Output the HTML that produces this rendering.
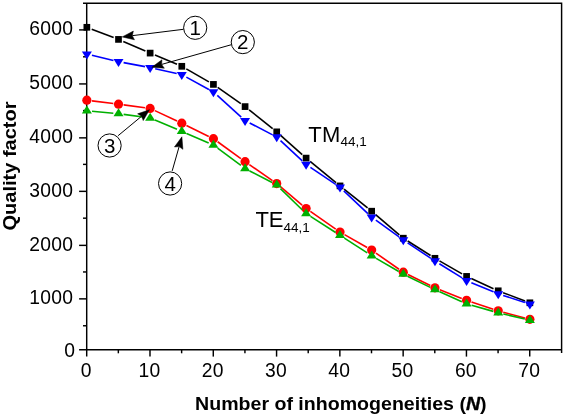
<!DOCTYPE html>
<html><head><meta charset="utf-8"><title>Quality factor</title>
<style>
html,body{margin:0;padding:0;background:#fff;}
body{width:564px;height:416px;overflow:hidden;}
svg{display:block;will-change:transform;}
svg text{font-family:"Liberation Sans",sans-serif;fill:#000;}
</style></head><body>
<svg width="564" height="416" viewBox="0 0 564 416">
<rect width="564" height="416" fill="#fff"/>
<g id="axes">
<path d="M83.0,3.2 H561.6 V353.1" fill="none" stroke="#000" stroke-width="1.45" stroke-linejoin="miter"/>
<line x1="86.7" y1="3.2" x2="86.7" y2="356.6" stroke="#000" stroke-width="1.45"/>
<line x1="79.10000000000001" y1="349.8" x2="561.6" y2="349.8" stroke="#000" stroke-width="1.45"/>
<line x1="79.10000000000001" y1="29.9" x2="86.7" y2="29.9" stroke="#000" stroke-width="1.45"/>
<line x1="79.10000000000001" y1="83.93" x2="86.7" y2="83.93" stroke="#000" stroke-width="1.45"/>
<line x1="79.10000000000001" y1="137.86" x2="86.7" y2="137.86" stroke="#000" stroke-width="1.45"/>
<line x1="79.10000000000001" y1="191.36" x2="86.7" y2="191.36" stroke="#000" stroke-width="1.45"/>
<line x1="79.10000000000001" y1="245.37" x2="86.7" y2="245.37" stroke="#000" stroke-width="1.45"/>
<line x1="79.10000000000001" y1="298.86" x2="86.7" y2="298.86" stroke="#000" stroke-width="1.45"/>
<line x1="83.0" y1="325.76" x2="86.7" y2="325.76" stroke="#000" stroke-width="1.45"/>
<line x1="83.0" y1="271.96" x2="86.7" y2="271.96" stroke="#000" stroke-width="1.45"/>
<line x1="83.0" y1="218.17" x2="86.7" y2="218.17" stroke="#000" stroke-width="1.45"/>
<line x1="83.0" y1="164.38" x2="86.7" y2="164.38" stroke="#000" stroke-width="1.45"/>
<line x1="83.0" y1="110.59" x2="86.7" y2="110.59" stroke="#000" stroke-width="1.45"/>
<line x1="83.0" y1="56.80" x2="86.7" y2="56.80" stroke="#000" stroke-width="1.45"/>
<line x1="149.99" y1="349.8" x2="149.99" y2="356.6" stroke="#000" stroke-width="1.45"/>
<line x1="213.28" y1="349.8" x2="213.28" y2="356.6" stroke="#000" stroke-width="1.45"/>
<line x1="276.57" y1="349.8" x2="276.57" y2="356.6" stroke="#000" stroke-width="1.45"/>
<line x1="339.86" y1="349.8" x2="339.86" y2="356.6" stroke="#000" stroke-width="1.45"/>
<line x1="403.15" y1="349.8" x2="403.15" y2="356.6" stroke="#000" stroke-width="1.45"/>
<line x1="466.44" y1="349.8" x2="466.44" y2="356.6" stroke="#000" stroke-width="1.45"/>
<line x1="529.73" y1="349.8" x2="529.73" y2="356.6" stroke="#000" stroke-width="1.45"/>
<line x1="118.34" y1="349.8" x2="118.34" y2="353.3" stroke="#000" stroke-width="1.45"/>
<line x1="181.63" y1="349.8" x2="181.63" y2="353.3" stroke="#000" stroke-width="1.45"/>
<line x1="244.93" y1="349.8" x2="244.93" y2="353.3" stroke="#000" stroke-width="1.45"/>
<line x1="308.21" y1="349.8" x2="308.21" y2="353.3" stroke="#000" stroke-width="1.45"/>
<line x1="371.50" y1="349.8" x2="371.50" y2="353.3" stroke="#000" stroke-width="1.45"/>
<line x1="434.79" y1="349.8" x2="434.79" y2="353.3" stroke="#000" stroke-width="1.45"/>
<line x1="498.08" y1="349.8" x2="498.08" y2="353.3" stroke="#000" stroke-width="1.45"/>
</g>
<g id="ticklabels">
<text x="73.2" y="34.70" text-anchor="end" font-size="19.3" letter-spacing="0.27">6000</text>
<text x="73.2" y="88.83" text-anchor="end" font-size="19.3" letter-spacing="0.27">5000</text>
<text x="73.2" y="142.96" text-anchor="end" font-size="19.3" letter-spacing="0.27">4000</text>
<text x="73.2" y="196.76" text-anchor="end" font-size="19.3" letter-spacing="0.27">3000</text>
<text x="73.2" y="250.67" text-anchor="end" font-size="19.3" letter-spacing="0.27">2000</text>
<text x="73.2" y="304.36" text-anchor="end" font-size="19.3" letter-spacing="0.27">1000</text>
<text x="74.9" y="357.3" text-anchor="end" font-size="19.3">0</text>
<text x="86.15" y="377.2" text-anchor="middle" font-size="19.3" letter-spacing="0.27">0</text>
<text x="149.44" y="377.2" text-anchor="middle" font-size="19.3" letter-spacing="0.27">10</text>
<text x="212.73" y="377.2" text-anchor="middle" font-size="19.3" letter-spacing="0.27">20</text>
<text x="276.02" y="377.2" text-anchor="middle" font-size="19.3" letter-spacing="0.27">30</text>
<text x="339.31" y="377.2" text-anchor="middle" font-size="19.3" letter-spacing="0.27">40</text>
<text x="402.60" y="377.2" text-anchor="middle" font-size="19.3" letter-spacing="0.27">50</text>
<text x="465.89" y="377.2" text-anchor="middle" font-size="19.3" letter-spacing="0.27">60</text>
<text x="529.18" y="377.2" text-anchor="middle" font-size="19.3" letter-spacing="0.27">70</text>
</g>
<g id="titles">
<text transform="translate(340.8,410.4) scale(1.089,1)" text-anchor="middle" font-size="18" font-weight="bold">Number of inhomogeneities (<tspan font-style="italic" font-weight="bold" stroke="#000" stroke-width="0.35">N</tspan>)</text>
<text transform="translate(15.6,166.0) rotate(-90) scale(1.055,1)" text-anchor="middle" font-size="19" font-weight="bold">Quality factor</text>
</g>
<g id="s1">
<line x1="91.71" y1="29.16" x2="113.64" y2="37.54" stroke="#000" stroke-width="1.6"/>
<line x1="123.27" y1="41.47" x2="145.37" y2="51.03" stroke="#000" stroke-width="1.6"/>
<line x1="154.94" y1="55.10" x2="176.99" y2="64.30" stroke="#000" stroke-width="1.6"/>
<line x1="186.30" y1="68.88" x2="208.92" y2="81.82" stroke="#000" stroke-width="1.6"/>
<line x1="217.69" y1="87.39" x2="240.82" y2="103.61" stroke="#000" stroke-width="1.6"/>
<line x1="249.14" y1="109.84" x2="272.66" y2="128.61" stroke="#000" stroke-width="1.6"/>
<line x1="280.60" y1="135.31" x2="302.22" y2="154.64" stroke="#000" stroke-width="1.6"/>
<line x1="310.12" y1="161.40" x2="335.99" y2="182.60" stroke="#000" stroke-width="1.6"/>
<line x1="344.07" y1="189.15" x2="367.59" y2="207.95" stroke="#000" stroke-width="1.6"/>
<line x1="375.61" y1="214.58" x2="399.34" y2="234.82" stroke="#000" stroke-width="1.6"/>
<line x1="407.69" y1="240.99" x2="430.56" y2="255.51" stroke="#000" stroke-width="1.6"/>
<line x1="439.46" y1="260.88" x2="462.08" y2="273.82" stroke="#000" stroke-width="1.6"/>
<line x1="471.32" y1="278.55" x2="493.50" y2="288.65" stroke="#000" stroke-width="1.6"/>
<line x1="503.10" y1="292.64" x2="525.02" y2="300.96" stroke="#000" stroke-width="1.6"/>
<rect x="83.50" y="23.95" width="6.7" height="6.7" fill="#000"/>
<rect x="115.15" y="36.05" width="6.7" height="6.7" fill="#000"/>
<rect x="146.79" y="49.75" width="6.7" height="6.7" fill="#000"/>
<rect x="178.44" y="62.95" width="6.7" height="6.7" fill="#000"/>
<rect x="210.08" y="81.05" width="6.7" height="6.7" fill="#000"/>
<rect x="241.73" y="103.25" width="6.7" height="6.7" fill="#000"/>
<rect x="273.37" y="128.50" width="6.7" height="6.7" fill="#000"/>
<rect x="302.75" y="154.75" width="6.7" height="6.7" fill="#000"/>
<rect x="336.66" y="182.55" width="6.7" height="6.7" fill="#000"/>
<rect x="368.30" y="207.85" width="6.7" height="6.7" fill="#000"/>
<rect x="399.95" y="234.85" width="6.7" height="6.7" fill="#000"/>
<rect x="431.59" y="254.95" width="6.7" height="6.7" fill="#000"/>
<rect x="463.24" y="273.05" width="6.7" height="6.7" fill="#000"/>
<rect x="494.88" y="287.45" width="6.7" height="6.7" fill="#000"/>
<rect x="526.53" y="299.45" width="6.7" height="6.7" fill="#000"/>
</g>
<g id="s2">
<line x1="91.91" y1="55.28" x2="113.44" y2="60.45" stroke="#0000ff" stroke-width="1.6"/>
<line x1="123.61" y1="62.62" x2="145.03" y2="66.61" stroke="#0000ff" stroke-width="1.6"/>
<line x1="155.21" y1="68.71" x2="176.71" y2="73.53" stroke="#0000ff" stroke-width="1.6"/>
<line x1="186.35" y1="77.16" x2="208.87" y2="89.47" stroke="#0000ff" stroke-width="1.6"/>
<line x1="217.29" y1="95.45" x2="241.22" y2="117.08" stroke="#0000ff" stroke-width="1.6"/>
<line x1="249.69" y1="122.97" x2="272.11" y2="134.62" stroke="#0000ff" stroke-width="1.6"/>
<line x1="280.52" y1="140.56" x2="302.30" y2="160.87" stroke="#0000ff" stroke-width="1.6"/>
<line x1="310.41" y1="167.32" x2="335.70" y2="184.36" stroke="#0000ff" stroke-width="1.6"/>
<line x1="343.79" y1="190.84" x2="367.88" y2="213.60" stroke="#0000ff" stroke-width="1.6"/>
<line x1="375.87" y1="220.21" x2="399.08" y2="236.97" stroke="#0000ff" stroke-width="1.6"/>
<line x1="407.63" y1="242.89" x2="430.61" y2="258.14" stroke="#0000ff" stroke-width="1.6"/>
<line x1="439.36" y1="263.76" x2="462.17" y2="277.92" stroke="#0000ff" stroke-width="1.6"/>
<line x1="471.39" y1="282.66" x2="493.43" y2="291.82" stroke="#0000ff" stroke-width="1.6"/>
<line x1="503.18" y1="295.43" x2="524.94" y2="302.55" stroke="#0000ff" stroke-width="1.6"/>
<polygon points="81.85,51.40 91.85,51.40 86.85,59.40" fill="#0000ff"/>
<polygon points="113.50,59.00 123.50,59.00 118.50,67.00" fill="#0000ff"/>
<polygon points="145.14,64.90 155.14,64.90 150.14,72.90" fill="#0000ff"/>
<polygon points="176.78,72.00 186.78,72.00 181.78,80.00" fill="#0000ff"/>
<polygon points="208.43,89.30 218.43,89.30 213.43,97.30" fill="#0000ff"/>
<polygon points="240.08,117.90 250.08,117.90 245.08,125.90" fill="#0000ff"/>
<polygon points="271.72,134.35 281.72,134.35 276.72,142.35" fill="#0000ff"/>
<polygon points="301.10,161.75 311.10,161.75 306.10,169.75" fill="#0000ff"/>
<polygon points="335.01,184.60 345.01,184.60 340.01,192.60" fill="#0000ff"/>
<polygon points="366.65,214.50 376.65,214.50 371.65,222.50" fill="#0000ff"/>
<polygon points="398.30,237.35 408.30,237.35 403.30,245.35" fill="#0000ff"/>
<polygon points="429.94,258.35 439.94,258.35 434.94,266.35" fill="#0000ff"/>
<polygon points="461.59,278.00 471.59,278.00 466.59,286.00" fill="#0000ff"/>
<polygon points="493.23,291.15 503.23,291.15 498.23,299.15" fill="#0000ff"/>
<polygon points="524.88,301.50 534.88,301.50 529.88,309.50" fill="#0000ff"/>
</g>
<g id="s3">
<line x1="92.01" y1="100.85" x2="113.34" y2="103.55" stroke="#ff0000" stroke-width="1.6"/>
<line x1="123.65" y1="104.89" x2="144.99" y2="107.76" stroke="#ff0000" stroke-width="1.6"/>
<line x1="154.86" y1="110.64" x2="177.07" y2="120.96" stroke="#ff0000" stroke-width="1.6"/>
<line x1="186.45" y1="125.44" x2="208.76" y2="136.41" stroke="#ff0000" stroke-width="1.6"/>
<line x1="217.64" y1="141.75" x2="240.87" y2="158.60" stroke="#ff0000" stroke-width="1.6"/>
<line x1="249.35" y1="164.61" x2="272.45" y2="180.64" stroke="#ff0000" stroke-width="1.6"/>
<line x1="280.69" y1="186.96" x2="302.13" y2="205.14" stroke="#ff0000" stroke-width="1.6"/>
<line x1="310.37" y1="211.46" x2="335.74" y2="229.04" stroke="#ff0000" stroke-width="1.6"/>
<line x1="344.52" y1="234.58" x2="367.14" y2="247.52" stroke="#ff0000" stroke-width="1.6"/>
<line x1="375.92" y1="253.08" x2="399.04" y2="269.22" stroke="#ff0000" stroke-width="1.6"/>
<line x1="407.96" y1="274.51" x2="430.28" y2="285.54" stroke="#ff0000" stroke-width="1.6"/>
<line x1="439.78" y1="289.75" x2="461.75" y2="298.40" stroke="#ff0000" stroke-width="1.6"/>
<line x1="471.52" y1="301.94" x2="493.30" y2="309.21" stroke="#ff0000" stroke-width="1.6"/>
<line x1="503.26" y1="312.19" x2="524.86" y2="317.96" stroke="#ff0000" stroke-width="1.6"/>
<circle cx="86.85" cy="100.20" r="4.6" fill="#ff0000"/>
<circle cx="118.50" cy="104.20" r="4.6" fill="#ff0000"/>
<circle cx="150.14" cy="108.45" r="4.6" fill="#ff0000"/>
<circle cx="181.78" cy="123.15" r="4.6" fill="#ff0000"/>
<circle cx="213.43" cy="138.70" r="4.6" fill="#ff0000"/>
<circle cx="245.08" cy="161.65" r="4.6" fill="#ff0000"/>
<circle cx="276.72" cy="183.60" r="4.6" fill="#ff0000"/>
<circle cx="306.10" cy="208.50" r="4.6" fill="#ff0000"/>
<circle cx="340.01" cy="232.00" r="4.6" fill="#ff0000"/>
<circle cx="371.65" cy="250.10" r="4.6" fill="#ff0000"/>
<circle cx="403.30" cy="272.20" r="4.6" fill="#ff0000"/>
<circle cx="434.94" cy="287.85" r="4.6" fill="#ff0000"/>
<circle cx="466.59" cy="300.30" r="4.6" fill="#ff0000"/>
<circle cx="498.23" cy="310.85" r="4.6" fill="#ff0000"/>
<circle cx="529.88" cy="319.30" r="4.6" fill="#ff0000"/>
</g>
<g id="s4">
<line x1="92.03" y1="111.29" x2="113.32" y2="113.18" stroke="#00b000" stroke-width="1.6"/>
<line x1="123.65" y1="114.34" x2="144.99" y2="117.28" stroke="#00b000" stroke-width="1.6"/>
<line x1="154.93" y1="120.00" x2="176.99" y2="129.31" stroke="#00b000" stroke-width="1.6"/>
<line x1="186.55" y1="133.41" x2="208.66" y2="143.01" stroke="#00b000" stroke-width="1.6"/>
<line x1="217.61" y1="148.18" x2="240.90" y2="165.44" stroke="#00b000" stroke-width="1.6"/>
<line x1="249.69" y1="170.93" x2="272.10" y2="182.54" stroke="#00b000" stroke-width="1.6"/>
<line x1="280.44" y1="188.57" x2="302.38" y2="210.00" stroke="#00b000" stroke-width="1.6"/>
<line x1="310.48" y1="216.44" x2="335.63" y2="232.53" stroke="#00b000" stroke-width="1.6"/>
<line x1="344.38" y1="238.15" x2="367.28" y2="252.92" stroke="#00b000" stroke-width="1.6"/>
<line x1="376.15" y1="258.35" x2="398.80" y2="271.52" stroke="#00b000" stroke-width="1.6"/>
<line x1="407.97" y1="276.42" x2="430.28" y2="287.35" stroke="#00b000" stroke-width="1.6"/>
<line x1="439.69" y1="291.76" x2="461.85" y2="301.70" stroke="#00b000" stroke-width="1.6"/>
<line x1="471.59" y1="305.25" x2="493.23" y2="311.37" stroke="#00b000" stroke-width="1.6"/>
<line x1="503.30" y1="313.97" x2="524.82" y2="319.04" stroke="#00b000" stroke-width="1.6"/>
<polygon points="81.85,113.50 91.85,113.50 86.85,105.50" fill="#00b000"/>
<polygon points="113.50,116.30 123.50,116.30 118.50,108.30" fill="#00b000"/>
<polygon points="145.14,120.65 155.14,120.65 150.14,112.65" fill="#00b000"/>
<polygon points="176.78,134.00 186.78,134.00 181.78,126.00" fill="#00b000"/>
<polygon points="208.43,147.75 218.43,147.75 213.43,139.75" fill="#00b000"/>
<polygon points="240.08,171.20 250.08,171.20 245.08,163.20" fill="#00b000"/>
<polygon points="271.72,187.60 281.72,187.60 276.72,179.60" fill="#00b000"/>
<polygon points="301.10,216.30 311.10,216.30 306.10,208.30" fill="#00b000"/>
<polygon points="335.01,238.00 345.01,238.00 340.01,230.00" fill="#00b000"/>
<polygon points="366.65,258.40 376.65,258.40 371.65,250.40" fill="#00b000"/>
<polygon points="398.30,276.80 408.30,276.80 403.30,268.80" fill="#00b000"/>
<polygon points="429.94,292.30 439.94,292.30 434.94,284.30" fill="#00b000"/>
<polygon points="461.59,306.50 471.59,306.50 466.59,298.50" fill="#00b000"/>
<polygon points="493.23,315.45 503.23,315.45 498.23,307.45" fill="#00b000"/>
<polygon points="524.88,322.90 534.88,322.90 529.88,314.90" fill="#00b000"/>
</g>
<g id="modes">
<text x="308.2" y="142.1" font-size="22" letter-spacing="0.4">TM</text><text x="340.4" y="146.3" font-size="13.5">44,1</text>
<text x="255.6" y="226.6" font-size="22" letter-spacing="-0.3">TE</text><text x="283.6" y="232.2" font-size="13.5">44,1</text>
</g>
<g id="ann">
<line x1="183.50" y1="29.30" x2="132.32" y2="35.65" stroke="#000" stroke-width="1.0"/><polygon points="122.20,36.90 133.37,31.08 132.32,35.65 134.45,39.81" fill="#000" stroke="#000" stroke-width="0.5" stroke-linejoin="miter"/>
<line x1="231.40" y1="44.70" x2="161.62" y2="64.43" stroke="#000" stroke-width="1.0"/><polygon points="151.80,67.20 161.96,59.76 161.62,64.43 164.35,68.22" fill="#000" stroke="#000" stroke-width="0.5" stroke-linejoin="miter"/>
<line x1="118.10" y1="135.70" x2="141.64" y2="116.21" stroke="#000" stroke-width="1.0"/><polygon points="149.50,109.70 143.22,120.61 141.64,116.21 137.61,113.84" fill="#000" stroke="#000" stroke-width="0.5" stroke-linejoin="miter"/>
<line x1="172.20" y1="170.90" x2="179.11" y2="146.61" stroke="#000" stroke-width="1.0"/><polygon points="181.90,136.80 182.90,149.35 179.11,146.61 174.44,146.95" fill="#000" stroke="#000" stroke-width="0.5" stroke-linejoin="miter"/>
<circle cx="195.2" cy="27.8" r="11.6" fill="#fff" stroke="#000" stroke-width="1.0"/><text x="195.2" y="35.05" text-anchor="middle" font-size="20.5">1</text>
<circle cx="242.8" cy="42.1" r="11.6" fill="#fff" stroke="#000" stroke-width="1.0"/><text x="242.8" y="49.35" text-anchor="middle" font-size="20.5">2</text>
<circle cx="109.6" cy="145.5" r="11.6" fill="#fff" stroke="#000" stroke-width="1.0"/><text x="109.6" y="152.75" text-anchor="middle" font-size="20.5">3</text>
<circle cx="170.1" cy="183.5" r="11.6" fill="#fff" stroke="#000" stroke-width="1.0"/><text x="170.1" y="190.75" text-anchor="middle" font-size="20.5">4</text>
</g>
</svg>
</body></html>
